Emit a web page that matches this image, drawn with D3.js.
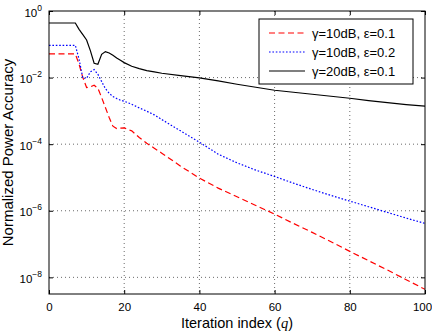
<!DOCTYPE html>
<html>
<head>
<meta charset="utf-8">
<script src="https://cdn.jsdelivr.net/npm/d3@7"></script>
<style>
  body { margin: 0; background: #fff; }
  svg { display: block; font-family: "Liberation Sans", Arial, sans-serif; }
</style>
</head>
<body>
<script>
// iteration index q at which values were read
var q = [0, 7, 8, 9, 10, 11, 12, 13, 14, 15, 16, 17, 18, 19, 20, 22, 24, 26, 28, 30,
  35, 40, 45, 50, 55, 60, 65, 70, 75, 80, 85, 90, 95, 100];
// log10 of normalized power accuracy
var red10dB01 = [-1.29, -1.29, -1.6, -2.0, -2.3, -2.28, -2.23, -2.32, -2.6, -2.9, -3.2, -3.46, -3.53, -3.52, -3.51, -3.6, -3.8, -3.97, -4.12, -4.27,
  -4.66, -5.02, -5.32, -5.58, -5.84, -6.1, -6.38, -6.65, -6.93, -7.22, -7.5, -7.78, -8.07, -8.36];
var blue10dB02 = [-1.03, -1.03, -1.45, -2.02, -2.02, -1.83, -1.76, -1.9, -2.12, -2.33, -2.47, -2.57, -2.63, -2.68, -2.71, -2.8, -2.91, -3.01, -3.12, -3.26,
  -3.6, -3.94, -4.3, -4.56, -4.78, -4.97, -5.17, -5.36, -5.54, -5.71, -5.88, -6.05, -6.22, -6.38];
var black20dB01 = [-0.36, -0.36, -0.55, -0.71, -0.87, -1.19, -1.57, -1.6, -1.3, -1.22, -1.26, -1.33, -1.41, -1.48, -1.55, -1.66, -1.73, -1.79, -1.83, -1.87,
  -1.94, -2.01, -2.1, -2.2, -2.29, -2.38, -2.44, -2.5, -2.56, -2.62, -2.69, -2.75, -2.81, -2.86];

var seriesNames = ["γ=10dB, ε=0.1", "γ=10dB, ε=0.2", "γ=20dB, ε=0.1"];
var xTicks = [0, 20, 40, 60, 80, 100];
var yTickExps = [0, -2, -4, -6, -8];

var width = 432;
var height = 332;
var plot = { left: 49, top: 11, right: 425, bottom: 294 };

var svg = d3.select("body")
  .append("svg")
  .attr("width", width)
  .attr("height", height);

var x = d3.scaleLinear().domain([0, 100]).range([plot.left, plot.right]);
var y = d3.scaleLog().domain([Math.pow(10, -8.5), 1]).range([plot.bottom, plot.top]);
var yTicks = yTickExps.map(function (e) { return Math.pow(10, e); });

// dotted grid
var grid = svg.append("g").attr("stroke", "#444").attr("stroke-width", 0.8).attr("stroke-dasharray", "1,3");
grid.selectAll(".vg").data(xTicks.slice(1, -1)).enter().append("line")
  .attr("x1", function (d) { return x(d); }).attr("x2", function (d) { return x(d); })
  .attr("y1", plot.top).attr("y2", plot.bottom);
grid.selectAll(".hg").data(yTicks.slice(1)).enter().append("line")
  .attr("x1", plot.left).attr("x2", plot.right)
  .attr("y1", function (d) { return y(d); }).attr("y2", function (d) { return y(d); });

// axes with inward ticks on all four sides
function styleAxis(g) {
  g.select(".domain").remove();
  g.selectAll(".tick line").attr("stroke", "#000");
  g.selectAll(".tick text").attr("fill", "#000");
}
var xAxis = svg.append("g").attr("transform", "translate(0," + plot.bottom + ")")
  .call(d3.axisBottom(x).tickValues(xTicks).tickSize(-4).tickPadding(9))
  .attr("font-size", 11.5).attr("font-family", null)
  .call(styleAxis);
// last label sits against the right edge
xAxis.selectAll(".tick text").filter(function (d) { return d === 100; }).attr("dx", -3);
svg.append("g").attr("transform", "translate(0," + plot.top + ")")
  .call(d3.axisTop(x).tickValues(xTicks).tickSize(-4).tickFormat(""))
  .call(styleAxis);
var yAxis = svg.append("g").attr("transform", "translate(" + plot.left + ",0)")
  .call(d3.axisLeft(y).tickValues(yTicks).tickSize(-4).tickFormat(""))
  .call(styleAxis);
svg.append("g").attr("transform", "translate(" + plot.right + ",0)")
  .call(d3.axisRight(y).tickValues(yTicks).tickSize(-4).tickFormat(""))
  .call(styleAxis);

// 10^n labels
yAxis.selectAll(".tick").each(function (d) {
  var e = Math.round(Math.log10(d));
  var t = d3.select(this).append("text")
    .attr("x", -7).attr("y", 5)
    .attr("text-anchor", "end")
    .attr("fill", "#000")
    .attr("font-size", 11.5);
  t.append("tspan").text("10");
  t.append("tspan").attr("font-size", 8.5).attr("dy", -6).text(e === 0 ? "0" : "\u2212" + (-e));
});

// curves
var styles = [
  { color: "#ff0000", dash: "6,3.5" },
  { color: "#0000ff", dash: "1.6,1.8" },
  { color: "#000000", dash: null }
];
var seriesValues = [red10dB01, blue10dB02, black20dB01];
var line = d3.line()
  .x(function (d) { return x(d[0]); })
  .y(function (d) { return y(Math.pow(10, d[1])); });

svg.append("defs").append("clipPath").attr("id", "clip")
  .append("rect").attr("x", plot.left).attr("y", plot.top)
  .attr("width", plot.right - plot.left).attr("height", plot.bottom - plot.top);

svg.append("g").attr("clip-path", "url(#clip)")
  .selectAll("path").data(seriesValues).enter().append("path")
  .attr("d", function (vals) { return line(q.map(function (qq, i) { return [qq, vals[i]]; })); })
  .attr("fill", "none")
  .attr("stroke", function (d, i) { return styles[i].color; })
  .attr("stroke-width", 1.2)
  .attr("stroke-dasharray", function (d, i) { return styles[i].dash; });

// frame
svg.append("rect")
  .attr("x", plot.left).attr("y", plot.top)
  .attr("width", plot.right - plot.left).attr("height", plot.bottom - plot.top)
  .attr("fill", "none").attr("stroke", "#000").attr("stroke-width", 1);

// legend
var legend = svg.append("g").attr("transform", "translate(259,19)");
legend.append("rect").attr("width", 154).attr("height", 65)
  .attr("fill", "#fff").attr("stroke", "#000").attr("stroke-width", 1);
var items = legend.selectAll(".item").data(seriesNames).enter().append("g")
  .attr("transform", function (d, i) { return "translate(0," + (14 + i * 19) + ")"; });
items.append("line").attr("x1", 10).attr("x2", 46)
  .attr("stroke", function (d, i) { return styles[i].color; })
  .attr("stroke-width", 1.2)
  .attr("stroke-dasharray", function (d, i) { return styles[i].dash; });
items.append("text").attr("x", 53).attr("y", 4.5)
  .attr("font-size", 13).attr("fill", "#000")
  .text(function (d) { return d; });

// axis titles
var xt = svg.append("text")
  .attr("x", (plot.left + plot.right) / 2).attr("y", 328)
  .attr("text-anchor", "middle").attr("font-size", 14.5).attr("fill", "#000");
xt.append("tspan").text("Iteration index (");
xt.append("tspan").attr("font-family", "'Liberation Serif', serif").attr("font-style", "italic").text("q");
xt.append("tspan").text(")");

svg.append("text")
  .attr("transform", "translate(13," + (plot.top + plot.bottom) / 2 + ") rotate(-90)")
  .attr("text-anchor", "middle").attr("font-size", 15).attr("fill", "#000")
  .text("Normalized Power Accuracy");
</script>
</body>
</html>
